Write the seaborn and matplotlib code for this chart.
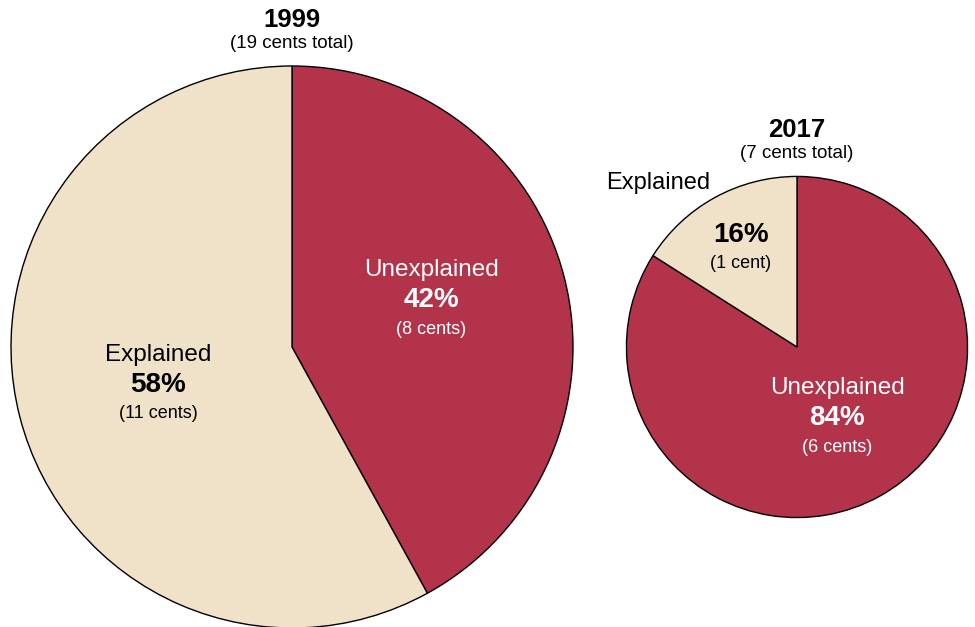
import matplotlib
matplotlib.use("Agg")
import matplotlib.pyplot as plt
import seaborn as sns
import numpy as np

# Data
years = ["1999", "2017"]
totals_cents = [19, 7]
segments = ["Unexplained", "Explained"]
shares_1999 = [42, 58]
shares_2017 = [84, 16]
cents_1999 = ["8 cents", "11 cents"]
cents_2017 = ["6 cents", "1 cent"]

# Style
sns.set_theme(style="white")
plt.rcParams["font.family"] = ["Liberation Sans", "DejaVu Sans"]
colors = ["#B3344A", "#EFE2C8"]
text_colors = ["white", "black"]

W, H = 975, 627
fig = plt.figure(figsize=(9.75, 6.27), dpi=100)
ax = fig.add_axes([0, 0, 1, 1])
ax.set_xlim(0, W)
ax.set_ylim(0, H)
ax.set_aspect("equal")
ax.axis("off")


def py(y):
    # pixel row (from top) -> data y, with small nudge for text centring
    return H - y


TXT_NUDGE = 2

# pie layout (pixel space); radius scales with sqrt of total cents
centers = [(292, 347), (797, 347)]
base_radius = 281
radii = [base_radius * np.sqrt(t / totals_cents[0]) for t in totals_cents]
title_y = [(18, 42), (128, 152)]
# label anchors (x, y of the percentage line) per pie per segment
label_pos = [
    [(431, 298), (158, 383)],
    [(837, 416), (741, 233)],
]
all_shares = [shares_1999, shares_2017]
all_cents = [cents_1999, cents_2017]

for i in range(2):
    cx, cy = centers[i]
    ax.pie(all_shares[i], colors=colors, startangle=90, counterclock=False,
           center=(cx, py(cy)), radius=radii[i], frame=True,
           wedgeprops=dict(edgecolor="black", linewidth=1.0))

    ty1, ty2 = title_y[i]
    ax.text(cx, py(ty1 + TXT_NUDGE), years[i], ha="center", va="center",
            fontsize=18.5, fontweight="bold", color="black")
    ax.text(cx, py(ty2 + TXT_NUDGE), f"({totals_cents[i]} cents total)",
            ha="center", va="center", fontsize=13.5, color="black")

    for j, seg in enumerate(segments):
        lx, ly = label_pos[i][j]
        ly += TXT_NUDGE
        tc = text_colors[j]
        ax.text(lx, py(ly), f"{all_shares[i][j]}%", ha="center", va="center",
                fontsize=20, fontweight="bold", color=tc)
        ax.text(lx, py(ly + 29), f"({all_cents[i][j]})", ha="center",
                va="center", fontsize=13, color=tc)
        if i == 1 and seg == "Explained":
            # small slice: segment name sits outside the pie
            ax.text(658, py(181 + TXT_NUDGE), seg, ha="center", va="center",
                    fontsize=17, color="black")
        else:
            ax.text(lx, py(ly - 30), seg, ha="center", va="center",
                    fontsize=17.5, color=tc)

ax.set_xlim(0, W)
ax.set_ylim(0, H)
ax.axis("off")

fig.savefig("out.png", dpi=100, facecolor="white")
